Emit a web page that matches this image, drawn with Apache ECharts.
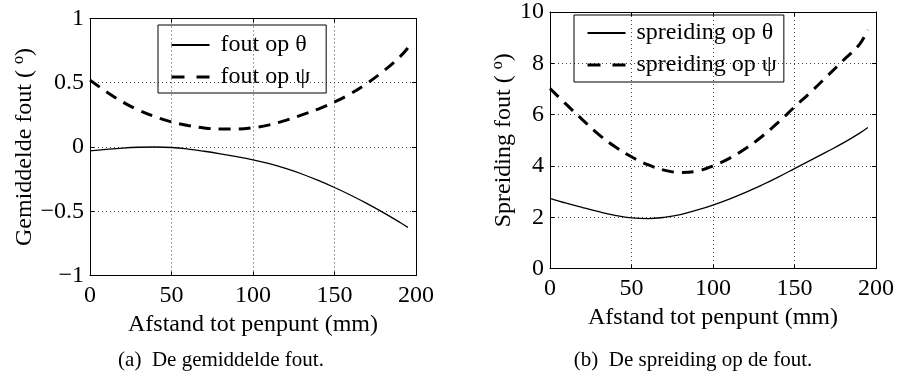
<!DOCTYPE html>
<html>
<head>
<meta charset="utf-8">
<script src="https://cdn.jsdelivr.net/npm/echarts@6/dist/echarts.min.js"></script>
<style>
  html, body { margin: 0; background: #fff; }
  #chart { width: 897px; height: 372px; }
</style>
</head>
<body>
<div id="chart"></div>
<script>
// afstand tot penpunt (mm)
var afstand = [0, 10, 20, 30, 40, 50, 60, 70, 80, 90, 100, 110, 120, 130, 140, 150, 160, 170, 180, 190, 195];
// (a) gemiddelde fout
var foutTheta = [-0.03, -0.018, -0.008, -0.002, 0.0, -0.004, -0.016, -0.033, -0.053, -0.075, -0.1, -0.13, -0.167, -0.21, -0.26, -0.315, -0.375, -0.44, -0.51, -0.585, -0.625];
var foutPsi = [0.52, 0.43, 0.35, 0.285, 0.235, 0.195, 0.167, 0.148, 0.14, 0.14, 0.15, 0.172, 0.207, 0.25, 0.295, 0.35, 0.415, 0.495, 0.59, 0.7, 0.77];
// (b) spreiding op de fout
var spreidTheta = [2.74, 2.55, 2.38, 2.22, 2.08, 1.98, 1.95, 2.0, 2.11, 2.28, 2.48, 2.71, 2.97, 3.26, 3.57, 3.9, 4.23, 4.56, 4.9, 5.28, 5.5];
var spreidPsi = [7.02, 6.4, 5.8, 5.22, 4.75, 4.36, 4.05, 3.84, 3.75, 3.8, 4.0, 4.3, 4.68, 5.15, 5.7, 6.3, 6.88, 7.5, 8.12, 8.75, 9.3];

var legendA = ['fout op θ', 'fout op ψ'];
var legendB = ['spreiding op θ', 'spreiding op ψ'];
var captions = ['(a)  De gemiddelde fout.', '(b)  De spreiding op de fout.'];

var font = '"Liberation Serif", "Times New Roman", serif';
var chart = echarts.init(document.getElementById('chart'));

function pairs(ys) {
  var res = [];
  for (var i = 0; i < afstand.length; i++) res.push([afstand[i], ys[i]]);
  return res;
}
function minus(v) { return String(v).replace('-', '\u2212'); }

function xAx(grid, top) {
  return {
    type: 'value', gridIndex: grid, min: 0, max: 200, interval: 50,
    position: top ? 'top' : 'bottom',
    axisLine: { show: true, onZero: false, lineStyle: { color: '#000', width: 1 } },
    axisTick: { show: true, inside: true, length: 4, lineStyle: { color: '#000' } },
    axisLabel: { show: !top, margin: 8, color: '#000', fontFamily: font, fontSize: 24 },
    splitLine: { show: !top, lineStyle: { type: [1, 3], color: '#444', width: 1 } },
    name: top ? '' : 'Afstand tot penpunt (mm)',
    nameLocation: 'middle', nameGap: 30,
    nameTextStyle: { color: '#000', fontFamily: font, fontSize: 24 }
  };
}
function yAx(grid, right, min, max, interval, label, gap) {
  return {
    type: 'value', gridIndex: grid, min: min, max: max, interval: interval,
    position: right ? 'right' : 'left',
    axisLine: { show: true, onZero: false, lineStyle: { color: '#000', width: 1 } },
    axisTick: { show: true, inside: true, length: 4, lineStyle: { color: '#000' } },
    axisLabel: { show: !right, margin: 6, color: '#000', fontFamily: font, fontSize: 24, formatter: minus },
    splitLine: { show: !right, lineStyle: { type: [1, 3], color: '#444', width: 1 } },
    name: right ? '' : label + ' ( {sup|o})',
    nameLocation: 'middle', nameGap: gap || 50, nameRotate: 90,
    nameTextStyle: {
      color: '#000', fontFamily: font, fontSize: 24,
      rich: { sup: { fontSize: 16, fontFamily: font, color: '#000', padding: [0, 0, 12, 0] } }
    }
  };
}
function serie(name, xi, yi, ys, dashed) {
  return {
    name: name, type: 'line', xAxisIndex: xi, yAxisIndex: yi,
    data: pairs(ys), smooth: 0.4, symbol: 'circle', showSymbol: false, silent: true,
    itemStyle: { color: '#000' },
    lineStyle: dashed ? { color: '#000', width: 3, type: [12, 8] } : { color: '#000', width: 1.3 }
  };
}
function legend(names, left, top, padding) {
  return {
    data: [
      { name: names[0] },
      { name: names[1], lineStyle: { type: [13, 12], width: 3, color: '#000' } }
    ],
    orient: 'vertical', left: left, top: top,
    itemWidth: 38, itemHeight: 18, itemGap: 8, padding: padding,
    borderColor: '#000', borderWidth: 1, borderRadius: 0,
    selectedMode: false,
    itemStyle: { color: 'rgba(0,0,0,0)', borderWidth: 0, opacity: 0 },
    textStyle: { color: '#000', fontFamily: font, fontSize: 24, padding: [0, 0, 0, 6] }
  };
}
var captionStyle = { color: '#000', fontFamily: font, fontSize: 21, fontWeight: 'normal' };

chart.setOption({
  animation: false,
  backgroundColor: '#fff',
  grid: [
    { left: 90, top: 18.4, width: 326, height: 257.2 },
    { left: 550, top: 11.6, width: 326.7, height: 257.1 }
  ],
  xAxis: [xAx(0, false), xAx(0, true), xAx(1, false), xAx(1, true)],
  yAxis: [
    yAx(0, false, -1, 1, 0.5, 'Gemiddelde fout', 50), yAx(0, true, -1, 1, 0.5),
    yAx(1, false, 0, 10, 2, 'Spreiding fout', 28), yAx(1, true, 0, 10, 2)
  ],
  legend: [
    legend(legendA, 158, 25, [8, 16, 4, 12]),
    legend(legendB, 574, 15, [6, 7, 5, 12])
  ],
  title: [
    { text: captions[0], left: 216, top: 345, textAlign: 'center', textStyle: captionStyle },
    { text: captions[1], left: 688, top: 345, textAlign: 'center', textStyle: captionStyle }
  ],
  series: [
    serie(legendA[0], 0, 0, foutTheta, false),
    serie(legendA[1], 0, 0, foutPsi, true),
    serie(legendB[0], 2, 2, spreidTheta, false),
    serie(legendB[1], 2, 2, spreidPsi, true)
  ]
});
</script>
</body>
</html>
